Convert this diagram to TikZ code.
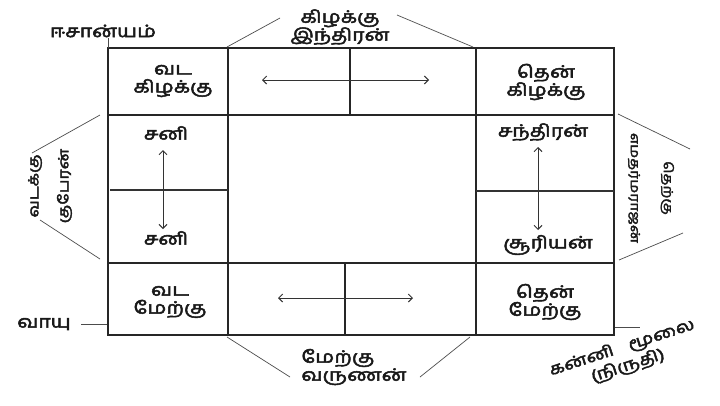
\documentclass[tikz,border=0pt]{standalone}
\usepackage{fontspec}
\usetikzlibrary{arrows.meta}
\newfontfamily\tamil[Script=Tamil,FakeBold=3,FakeStretch=1.25]{Hind Madurai}
\begin{document}
\begin{tikzpicture}[x=1pt,y=-1pt,
  grid/.style={line width=1.8pt,black!85},
  diag/.style={line width=0.7pt,black!70},
  dirarrow/.style={line width=1pt,black!80,{Straight Barb[length=4pt,width=8pt]}-{Straight Barb[length=4pt,width=8pt]}},
  lbl/.style={font=\tamil\fontsize{17}{18}\selectfont,align=center,inner sep=0pt,text=black!90},
  sidelbl/.style={font=\tamil\fontsize{14}{30}\selectfont,align=center,inner sep=0pt,text=black!90}]
\useasboundingbox (0,0) rectangle (720,405);
\fill[white] (0,0) rectangle (720,405);
% grid coordinates
\coordinate (tl) at (108,48);
\coordinate (tr) at (614,48);
\coordinate (bl) at (108,335);
\coordinate (br) at (614,335);
% outer frame and main lines
\draw[grid] (tl) rectangle (br);
\draw[grid] (228,48) -- (228,335);
\draw[grid] (476,48) -- (476,335);
\draw[grid] (108,115) -- (614,115);
\draw[grid] (108,263) -- (614,263);
\draw[grid] (350,48) -- (350,115);
\draw[grid] (345,263) -- (345,335);
\draw[line width=1.3pt,black!80] (110,190) -- (228,190);
\draw[line width=1.3pt,black!80] (476,191) -- (614,191);
% arrows
\coordinate (ta1) at (262,80); \coordinate (ta2) at (429,80);
\coordinate (ba1) at (278,298); \coordinate (ba2) at (413,298);
\coordinate (la1) at (163,150); \coordinate (la2) at (163,229);
\coordinate (ra1) at (538,147); \coordinate (ra2) at (538,230);
\draw[dirarrow] (ta1) -- (ta2);
\draw[dirarrow] (ba1) -- (ba2);
\draw[dirarrow] (la1) -- (la2);
\draw[dirarrow] (ra1) -- (ra2);
% cell labels
\node[lbl] (vk) at (173,81) {வட\\கிழக்கு};
\node[lbl] (tk) at (546,82) {தென்\\கிழக்கு};
\node[lbl] (vm) at (170,302) {வட\\மேற்கு};
\node[lbl] (tm) at (545,302) {தென்\\மேற்கு};
\node[lbl] (s1) at (166,133) {சனி};
\node[lbl] (s2) at (166,238) {சனி};
\node[lbl] (ch) at (543,132) {சந்திரன்};
\node[lbl] (su) at (548,245) {சூரியன்};
% outside labels
\node[lbl] (isan) at (103,31) {ஈசான்யம்};
\draw[diag,line width=1pt] (tl) -- (108,38);
\node[lbl] (east) at (340,27) {கிழக்கு\\இந்திரன்};
\coordinate (e1) at (280,18); \coordinate (e2) at (397,15);
\draw[diag] (227,47) -- (e1);
\draw[diag] (e2) -- (473,47);
\node[sidelbl,rotate=90] (north) at (50,186) {வடக்கு\\குபேரன்};
\coordinate (n1) at (32,153); \coordinate (n2) at (40,220);
\draw[diag] (100,115) -- (n1);
\draw[diag] (n2) -- (100,259);
\node[sidelbl,rotate=-90,font=\tamil\fontsize{12.5}{33}\selectfont] (south) at (651,188) {தெற்கு\\எமதர்மராஜன்};
\coordinate (so1) at (690,149); \coordinate (so2) at (683,233);
\draw[diag] (618,114) -- (so1);
\draw[diag] (so2) -- (619,260);
\node[lbl] (vayu) at (44,324) {வாயு};
\draw[diag,line width=1pt] (81,324) -- (107,324);
\node[lbl,align=left] (west) at (354,367) {மேற்கு\\வருணன்};
\coordinate (w1) at (290,377); \coordinate (w2) at (420,377);
\draw[diag] (227,337) -- (w1);
\draw[diag] (470,337) -- (w2);
\node[lbl,rotate=18,font=\tamil\fontsize{16}{19}\selectfont] (kanni) at (625,357) {கன்னி\quad மூலை\\(நிருதி)};
\draw[diag,line width=1pt] (615,327) -- (640,327);
\end{tikzpicture}
\end{document}
